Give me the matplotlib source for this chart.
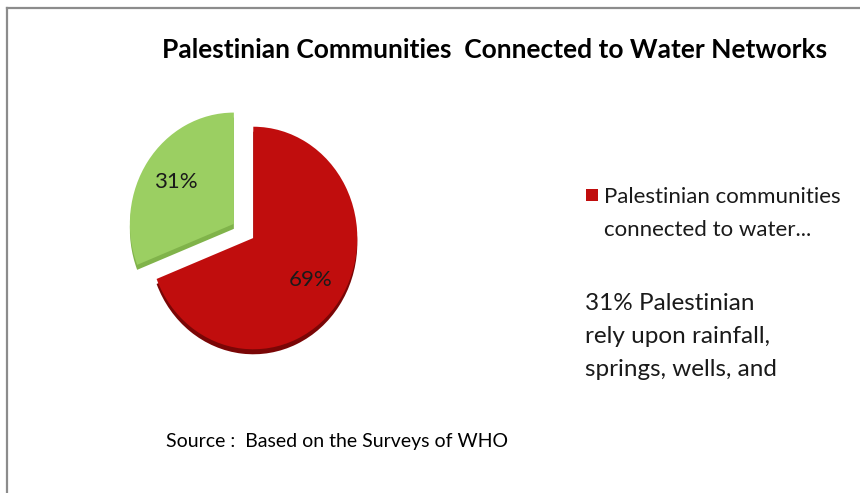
import matplotlib
matplotlib.use("Agg")
import matplotlib.pyplot as plt
from matplotlib.patches import Rectangle
from matplotlib.lines import Line2D

# ---- data ----
categories = ["Palestinian communities connected to water networks",
              "31% Palestinian rely upon rainfall, springs, wells, and"]
values = [69, 31]
colors = ["#C00D0D", "#9BCF62"]
side_colors = ["#7A0606", "#80B34A"]
explode = [0.0, 0.226]
title = "Palestinian Communities  Connected to Water Networks"
source = "Source :  Based on the Surveys of WHO"
legend_line1 = ["Palestinian communities", "connected to water..."]
legend_line2 = ["31% Palestinian", "rely upon rainfall,", "springs, wells, and"]

W, H = 860, 493
K = 1.07  # vertical stretch of the pie (perspective look)
fig = plt.figure(figsize=(W / 100, H / 100), dpi=100)
fig.patch.set_facecolor("white")
ax = fig.add_axes([0, 0, 1, 1])

cx, cy, r = 253.3, (H - 238) / K, 104
depth = 5 / K
expl = [e * r for e in explode]

# depth / side layer
ax.pie(values, colors=side_colors, explode=expl, startangle=90,
       counterclock=False, radius=r, center=(cx, cy - depth),
       wedgeprops=dict(linewidth=0))
# top layer
wedges, texts, autotexts = ax.pie(values, colors=colors, explode=expl,
                                  startangle=90, counterclock=False, radius=r,
                                  center=(cx, cy), autopct="%d%%",
                                  pctdistance=0.67,
                                  textprops=dict(fontsize=16, family="Lato",
                                                 color="#1a1a1a"),
                                  wedgeprops=dict(linewidth=0))
ax.set_aspect("auto")
ax.set_xlim(0, W)
ax.set_ylim(0, H / K)
ax.axis("off")

# border
fig.add_artist(Line2D([7 / W, 1], [1 - 8 / H, 1 - 8 / H], color="#8c8c8c", lw=1.6))
fig.add_artist(Line2D([7 / W, 7 / W], [0, 1 - 8 / H], color="#8c8c8c", lw=1.6))

# title
fig.text(495 / W, 1 - 58 / H, title, ha="center", va="baseline",
         fontsize=19, fontweight="bold", family="Lato", color="black")

# legend
fig.add_artist(Rectangle((586 / W, 1 - 201 / H), 12 / W, 12 / H,
                         facecolor=colors[0], edgecolor="none",
                         transform=fig.transFigure))
for i, line in enumerate(legend_line1):
    fig.text(604 / W, 1 - (203 + 33 * i) / H, line, ha="left", va="baseline",
             fontsize=16, family="Lato", color="#1a1a1a")
for i, line in enumerate(legend_line2):
    fig.text(585 / W, 1 - (310 + 33 * i) / H, line, ha="left", va="baseline",
             fontsize=17.5, family="Lato", color="#1a1a1a")

# source
fig.text(337 / W, 1 - 447 / H, source, ha="center", va="baseline",
         fontsize=14, family="Lato", color="black")

fig.savefig("out.png", dpi=100, facecolor="white")
